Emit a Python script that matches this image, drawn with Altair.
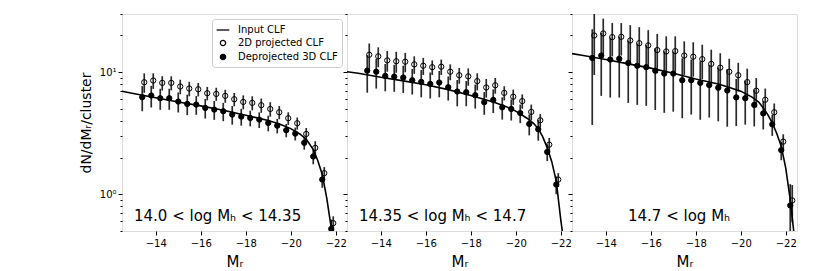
import altair as alt
import pandas as pd

FONT = "DejaVu Sans"

# magnitude bin centres (M_r)
bins = [-13.4, -13.8, -14.2, -14.6, -15.0, -15.4, -15.8, -16.2, -16.6, -17.0, -17.4, -17.8,
        -18.2, -18.6, -19.0, -19.4, -19.8, -20.2, -20.6, -21.0, -21.4, -21.8, -22.2]

panel_labels = ["14.0 < log Mₕ < 14.35", "14.35 < log Mₕ < 14.7", "14.7 < log Mₕ"]

# Deprojected 3D CLF (filled) and errors
d3_p1 = [6.24, 6.44, 6.12, 6.12, 5.75, 5.50, 5.43, 5.10, 4.94, 4.79, 4.50, 4.33, 4.22, 4.09,
         3.84, 3.65, 3.35, 3.14, 2.64, 2.04, 1.32, 0.52]
d3_p1_err = [1.45, 1.3, 1.2, 1.2, 1.07, 1.05, 0.95, 0.93, 0.87, 0.82, 0.78, 0.68, 0.62, 0.6,
             0.56, 0.5, 0.42, 0.38, 0.32, 0.28, 0.19, 0.1]
d3_p2 = [10.3, 10.1, 9.33, 9.21, 9.04, 8.60, 8.33, 8.02, 8.23, 7.54, 6.95, 6.86, 6.48, 5.68,
         5.93, 5.16, 5.0, 4.63, 3.77, 3.41, 2.22, 1.20]
d3_p2_err = [3.5, 2.75, 2.35, 2.3, 2.27, 2.04, 2.1, 1.93, 2.0, 1.68, 1.69, 1.6, 1.44, 1.2,
             1.3, 1.07, 0.98, 0.8, 0.73, 0.66, 0.35, 0.2]
d3_p3 = [13.1, 13.7, 12.7, 12.9, 11.9, 11.3, 11.0, 10.3, 9.75, 9.75, 8.60, 8.60, 8.18, 7.85,
         7.46, 7.08, 6.22, 6.12, 5.40, 4.60, 3.74, 2.30, 0.81]
d3_p3_err = [9.4, 7.3, 6.5, 6.7, 6.3, 5.9, 5.7, 5.4, 5.1, 5.0, 4.4, 4.1, 4.1, 3.6, 3.5, 3.5,
             2.6, 2.4, 1.8, 1.2, 0.73, 0.4, 0.4]

# 2D projected CLF (open) and errors
d2_p1 = [8.28, 8.55, 8.18, 8.18, 7.64, 7.35, 7.25, 6.73, 6.64, 6.40, 6.01, 5.71, 5.61, 5.37,
         5.00, 4.70, 4.20, 3.82, 3.12, 2.40, 1.49, 0.58]
d2_p1_err = [1.5, 1.25, 1.1, 1.08, 1.04, 1.0, 0.92, 0.85, 0.82, 0.78, 0.75, 0.75, 0.74, 0.72,
             0.68, 0.58, 0.5, 0.43, 0.37, 0.32, 0.18, 0.08]
d2_p2 = [13.9, 13.5, 12.5, 12.3, 12.2, 11.6, 11.3, 11.0, 11.1, 10.1, 9.45, 9.25, 8.45, 7.5,
         7.82, 6.77, 6.3, 5.8, 4.73, 4.04, 2.55, 1.32]
d2_p2_err = [3.3, 2.5, 2.4, 2.4, 2.2, 1.9, 1.8, 1.5, 1.6, 1.5, 1.4, 1.5, 1.35, 1.3, 1.15, 0.9,
             0.9, 0.78, 0.7, 0.5, 0.34, 0.17]
d2_p3 = [20.0, 20.8, 19.4, 19.5, 18.2, 17.3, 16.6, 15.2, 14.8, 14.9, 13.7, 13.4, 12.8, 11.7,
         10.9, 10.1, 9.45, 8.3, 7.05, 5.95, 4.70, 2.70, 0.89]
d2_p3_err = [10.5, 6.7, 5.9, 5.8, 6.1, 6.1, 5.5, 5.4, 4.9, 4.8, 4.2, 4.2, 4.0, 3.6, 3.4, 2.8,
             2.5, 2.4, 1.9, 1.4, 0.84, 0.4, 0.3]

# Input CLF curves
line_p1_x = [-12.5, -13, -14, -15, -16, -17, -18, -19, -19.5, -20, -20.4, -20.7, -21.0, -21.2,
             -21.4, -21.6, -21.8, -22.0]
line_p1_y = [6.98, 6.69, 6.17, 5.71, 5.30, 4.88, 4.44, 4.02, 3.77, 3.45, 3.12, 2.81, 2.32, 1.89,
             1.45, 0.93, 0.53, 0.28]
line_p2_x = [-12.5, -13, -14, -15, -16, -17, -18, -19, -19.5, -20, -20.5, -20.8, -21.0, -21.2,
             -21.4, -21.6, -21.8, -22.0, -22.2]
line_p2_y = [10.1, 9.8, 9.1, 8.5, 7.9, 7.2, 6.45, 5.7, 5.3, 4.8, 4.2, 3.8, 3.45, 2.95, 2.4, 1.85,
             1.28, 0.62, 0.33]
line_p3_x = [-12.5, -13, -14, -15, -16, -17, -18, -19, -19.5, -20, -20.5, -20.8, -21.0, -21.2,
             -21.4, -21.6, -21.8, -22.0, -22.2, -22.4]
line_p3_y = [14.2, 13.7, 12.7, 11.7, 10.8, 9.8, 8.8, 8.0, 7.5, 7.0, 6.25, 5.7, 5.1, 4.5, 3.85,
             3.15, 2.47, 1.64, 0.9, 0.42]

x_ticks = [-14, -16, -18, -20, -22]
y_ticks = [0.5, 0.6, 0.7, 0.8, 0.9, 1, 2, 3, 4, 5, 6, 7, 8, 9, 10, 20, 30]

SERIES = ["Input CLF", "2D projected CLF", "Deprojected 3D CLF"]

panels = [
    (d3_p1, d3_p1_err, d2_p1, d2_p1_err, line_p1_x, line_p1_y),
    (d3_p2, d3_p2_err, d2_p2, d2_p2_err, line_p2_x, line_p2_y),
    (d3_p3, d3_p3_err, d2_p3, d2_p3_err, line_p3_x, line_p3_y),
]
label_x = [12, 12, 56]


def xenc():
    return alt.X("x:Q",
                 scale=alt.Scale(domain=[-22.5, -12.5], reverse=True, nice=False, zero=False),
                 axis=alt.Axis(values=x_ticks, format="d", title="Mᵣ", grid=False, domain=False,
                               tickSize=4, tickColor="black", labelFontSize=10, labelFont=FONT,
                               labelColor="black", labelPadding=3, titleFont=FONT,
                               titleFontSize=15, titleFontWeight="normal", titleColor="black",
                               titlePadding=6))


def yenc(field, first):
    if first:
        ax = alt.Axis(values=y_ticks, title="dN/dMᵣ/cluster", grid=False, domain=False,
                      tickColor="black",
                      tickSize={"condition": {"test": "datum.value == 1 || datum.value == 10",
                                              "value": 4}, "value": 2},
                      labelExpr="datum.value == 1 ? '10⁰' : (datum.value == 10 ? '10¹' : '')",
                      labelFontSize=10, labelFont=FONT, labelColor="black", labelPadding=2,
                      titleFont=FONT, titleFontSize=14, titleFontWeight="normal",
                      titleColor="black", titlePadding=6)
    else:
        ax = alt.Axis(values=y_ticks, title=None, labels=False, grid=False, domain=False,
                      tickColor="black",
                      tickSize={"condition": {"test": "datum.value == 1 || datum.value == 10",
                                              "value": 4}, "value": 2})
    return alt.Y(field, scale=alt.Scale(type="log", domain=[0.5, 30], nice=False), axis=ax)


def panel(i):
    d3, d3e, d2, d2e, lx, ly = panels[i]
    first = i == 0
    n3, n2 = len(d3), len(d2)
    df3 = pd.DataFrame({"x": bins[:n3], "y": d3, "err": d3e, "series": SERIES[2]})
    df2 = pd.DataFrame({"x": bins[:n2], "y": d2, "err": d2e, "series": SERIES[1]})
    for df in (df3, df2):
        df["lo"] = df["y"] - df["err"]
        df["hi"] = df["y"] + df["err"]
    dline = pd.DataFrame({"x": lx, "y": ly})

    if first:
        leg = alt.Legend(orient="top-right", offset=5, title=None, labelFont=FONT,
                         labelFontSize=10, labelColor="black", strokeColor="#cccccc",
                         fillColor="white", padding=4, cornerRadius=3, rowPadding=2,
                         labelOffset=8, symbolStrokeWidth=1.3, symbolOpacity=1)
    else:
        leg = None
    shape = alt.Shape("series:N", scale=alt.Scale(domain=SERIES, range=["stroke", "circle", "circle"]),
                      legend=leg)
    fill = alt.Fill("series:N", scale=alt.Scale(domain=SERIES, range=["black", "transparent", "black"]),
                    legend=leg)
    stroke = alt.Stroke("series:N", scale=alt.Scale(domain=SERIES, range=["black", "black", "black"]),
                        legend=leg)
    size = alt.Size("series:N", scale=alt.Scale(type="ordinal", domain=SERIES, range=[160, 28, 28]),
                    legend=leg)

    bars2 = alt.Chart(df2).mark_rule(clip=True, color="#2a2a2a", strokeWidth=1.7, xOffset=2).encode(
        x=xenc(), y=yenc("lo:Q", first), y2="hi:Q")
    bars3 = alt.Chart(df3).mark_rule(clip=True, color="#2a2a2a", strokeWidth=1.7).encode(
        x=xenc(), y=yenc("lo:Q", first), y2="hi:Q")
    line = alt.Chart(dline).mark_line(clip=True, color="black", strokeWidth=1.6).encode(
        x=xenc(), y=yenc("y:Q", first))
    pts2 = alt.Chart(df2).mark_point(clip=True, strokeWidth=1, opacity=1, xOffset=2).encode(
        x=xenc(), y=yenc("y:Q", first), shape=shape, fill=fill, stroke=stroke, size=size)
    pts3 = alt.Chart(df3).mark_point(clip=True, strokeWidth=1, opacity=1).encode(
        x=xenc(), y=yenc("y:Q", first), shape=shape, fill=fill, stroke=stroke, size=size)
    txt = alt.Chart(pd.DataFrame({"t": [panel_labels[i]]})).mark_text(
        align="left", baseline="middle", font=FONT, fontSize=15, color="black").encode(
        text="t:N", x=alt.value(label_x[i]), y=alt.value(202))

    return alt.layer(bars2, bars3, line, pts2, pts3, txt).properties(width=225, height=217)


chart = alt.hconcat(panel(0), panel(1), panel(2), spacing=0, bounds="flush").resolve_scale(
    x="independent", y="independent", shape="independent", fill="independent",
    stroke="independent", size="independent"
).resolve_legend(shape="independent", fill="independent", stroke="independent",
                 size="independent").properties(
    padding={"left": 70, "top": 5, "right": 4, "bottom": 0}
).configure_view(stroke="black", strokeWidth=1).configure(background="white")

chart.save("out.html", embed_options={"renderer": "svg", "actions": False})
